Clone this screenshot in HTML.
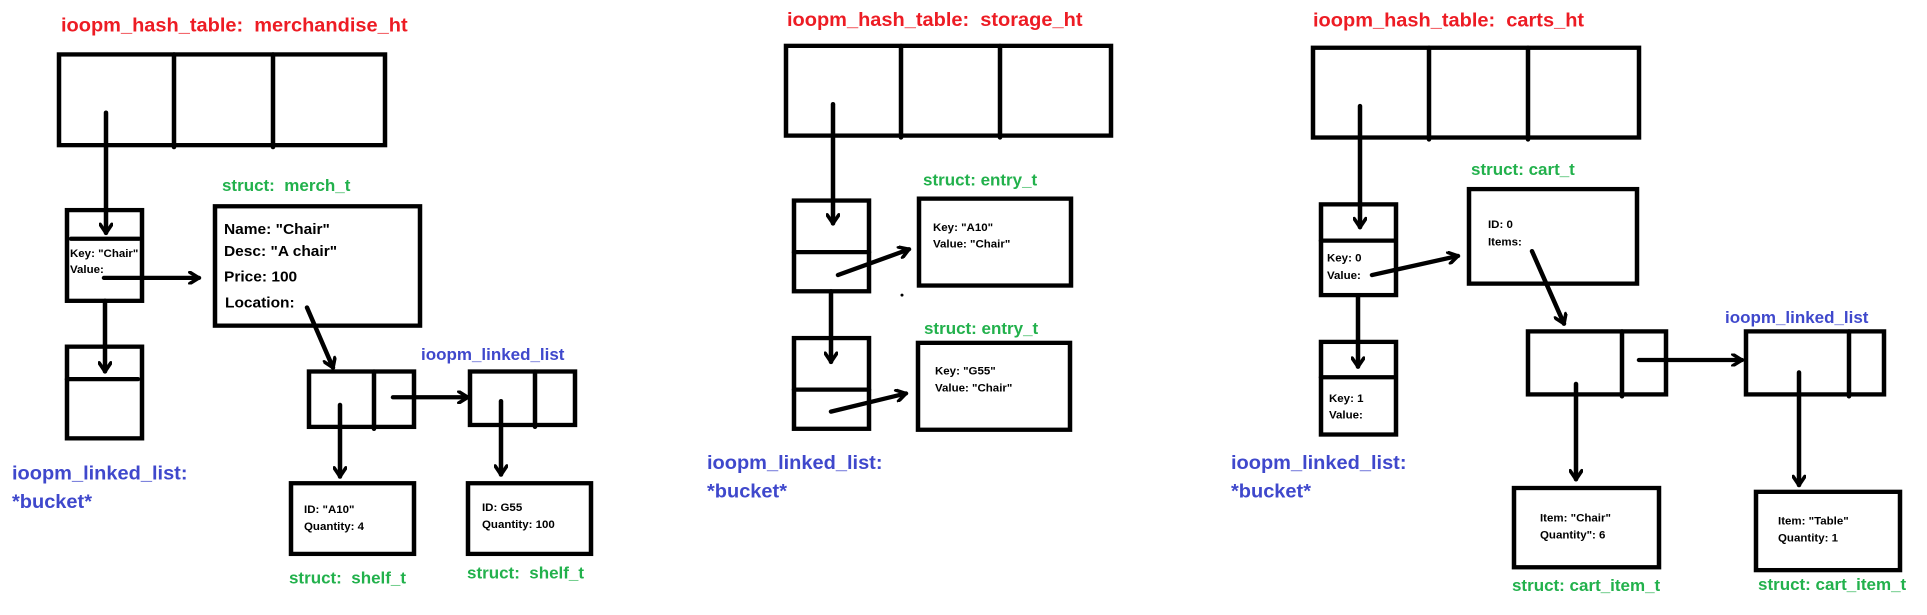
<!DOCTYPE html>
<html><head><meta charset="utf-8"><style>
html,body{margin:0;padding:0;background:#fff;}
svg{display:block;}
text{font-family:"Liberation Sans",sans-serif;font-weight:bold;white-space:pre;}
.r{fill:#ed1c24;font-size:20px;}
.g{fill:#22b14c;font-size:17px;}
.b{fill:#3f48cc;font-size:20px;}
.bs{fill:#3f48cc;font-size:17px;}
.t{fill:#000;font-size:11.5px;}
.m{fill:#000;font-size:15.5px;}
</style></head><body>
<svg width="1927" height="615" viewBox="0 0 1927 615" xmlns="http://www.w3.org/2000/svg" xml:space="preserve">
<defs>
<marker id="a" viewBox="0 0 10 10" refX="8.5" refY="5" markerWidth="14" markerHeight="14" markerUnits="userSpaceOnUse" orient="auto">
<path d="M2,0.8 L8.5,5 L2,9.2" fill="none" stroke="#000" stroke-width="2.6" stroke-linecap="round" stroke-linejoin="round"/>
</marker>
</defs>
<g transform="scale(1,0.955)" fill="none" stroke="#000" stroke-width="4.5" stroke-linecap="round">
<rect x="59" y="57" width="326" height="95"/>
<line x1="174" y1="57" x2="174" y2="154"/><line x1="273" y1="57" x2="273" y2="154"/>
<line x1="106" y1="118" x2="106" y2="244" marker-end="url(#a)"/>
<rect x="67" y="220" width="75" height="95"/>
<line x1="71" y1="250" x2="139" y2="250"/>
<line x1="104" y1="291" x2="199" y2="291" marker-end="url(#a)"/>
<line x1="105" y1="315" x2="105" y2="389" marker-end="url(#a)"/>
<rect x="67" y="363" width="75" height="96"/>
<line x1="67" y1="397" x2="138" y2="397"/>
<rect x="215" y="216" width="205" height="125"/>
<line x1="307" y1="322" x2="333" y2="385" marker-end="url(#a)"/>
<rect x="309" y="389" width="105" height="58"/>
<line x1="374" y1="389" x2="374" y2="449"/>
<line x1="393" y1="416" x2="468" y2="416" marker-end="url(#a)"/>
<rect x="470" y="389" width="105" height="56"/>
<line x1="535" y1="389" x2="535" y2="447"/>
<line x1="340" y1="424" x2="340" y2="499" marker-end="url(#a)"/>
<line x1="501" y1="420" x2="501" y2="497" marker-end="url(#a)"/>
<rect x="291" y="506" width="123" height="74"/>
<rect x="468" y="506" width="123" height="74"/>
<rect x="786" y="48" width="325" height="94"/>
<line x1="901" y1="48" x2="901" y2="144"/><line x1="1000" y1="48" x2="1000" y2="144"/>
<line x1="833" y1="109" x2="833" y2="234" marker-end="url(#a)"/>
<rect x="794" y="210" width="75" height="95"/>
<line x1="794" y1="264" x2="869" y2="264"/>
<line x1="838" y1="288" x2="909" y2="261" marker-end="url(#a)"/>
<line x1="831" y1="305" x2="831" y2="379" marker-end="url(#a)"/>
<rect x="794" y="354" width="75" height="95"/>
<line x1="794" y1="408" x2="869" y2="408"/>
<line x1="831" y1="431" x2="906" y2="412" marker-end="url(#a)"/>
<rect x="919" y="208" width="152" height="91"/>
<rect x="918" y="359" width="152" height="91"/>
<circle cx="902" cy="309" r="1.5" fill="#000" stroke="none"/>
<rect x="1313" y="50" width="326" height="94"/>
<line x1="1429" y1="50" x2="1429" y2="146"/><line x1="1528" y1="50" x2="1528" y2="146"/>
<line x1="1360" y1="111" x2="1360" y2="238" marker-end="url(#a)"/>
<rect x="1321" y="214" width="75" height="95"/>
<line x1="1321" y1="252" x2="1394" y2="252"/>
<line x1="1372" y1="288" x2="1458" y2="268" marker-end="url(#a)"/>
<line x1="1358" y1="309" x2="1358" y2="384" marker-end="url(#a)"/>
<rect x="1321" y="358" width="75" height="97"/>
<line x1="1321" y1="395" x2="1394" y2="395"/>
<rect x="1469" y="198" width="168" height="99"/>
<line x1="1532" y1="263" x2="1564" y2="339" marker-end="url(#a)"/>
<rect x="1528" y="347" width="138" height="66"/>
<line x1="1622" y1="347" x2="1622" y2="415"/>
<line x1="1639" y1="377" x2="1742" y2="377" marker-end="url(#a)"/>
<rect x="1746" y="347" width="138" height="66"/>
<line x1="1849" y1="347" x2="1849" y2="415"/>
<line x1="1576" y1="402" x2="1576" y2="502" marker-end="url(#a)"/>
<line x1="1799" y1="390" x2="1799" y2="508" marker-end="url(#a)"/>
<rect x="1514" y="511" width="145" height="83"/>
<rect x="1756" y="515" width="144" height="82"/>
</g>
<g transform="scale(1,0.955)">
<text class="r" x="61" y="33">ioopm_hash_table:&#160; merchandise_ht</text>
<text class="g" x="222" y="200">struct:&#160; merch_t</text>
<text class="t" x="70" y="269">Key: "Chair"</text>
<text class="t" x="70" y="286">Value:</text>
<text class="m" x="224" y="245">Name: "Chair"</text>
<text class="m" x="224" y="268">Desc: "A chair"</text>
<text class="m" x="224" y="295">Price: 100</text>
<text class="m" x="225" y="322">Location:</text>
<text class="bs" x="421" y="377">ioopm_linked_list</text>
<text class="t" x="304" y="537">ID: "A10"</text>
<text class="t" x="304" y="555">Quantity: 4</text>
<text class="t" x="482" y="535">ID: G55</text>
<text class="t" x="482" y="553">Quantity: 100</text>
<text class="g" x="289" y="611">struct:&#160; shelf_t</text>
<text class="g" x="467" y="606">struct:&#160; shelf_t</text>
<text class="b" x="12" y="502">ioopm_linked_list:</text>
<text class="b" x="12" y="532">*bucket*</text>
<text class="r" x="787" y="27">ioopm_hash_table:&#160; storage_ht</text>
<text class="g" x="923" y="194">struct: entry_t</text>
<text class="t" x="933" y="242">Key: "A10"</text>
<text class="t" x="933" y="259">Value: "Chair"</text>
<text class="g" x="924" y="350">struct: entry_t</text>
<text class="t" x="935" y="392">Key: "G55"</text>
<text class="t" x="935" y="410">Value: "Chair"</text>
<text class="b" x="707" y="491">ioopm_linked_list:</text>
<text class="b" x="707" y="521">*bucket*</text>
<text class="r" x="1313" y="28">ioopm_hash_table:&#160; carts_ht</text>
<text class="g" x="1471" y="183">struct: cart_t</text>
<text class="t" x="1488" y="239">ID: 0</text>
<text class="t" x="1488" y="257">Items:</text>
<text class="t" x="1327" y="274">Key: 0</text>
<text class="t" x="1327" y="292">Value:</text>
<text class="t" x="1329" y="421">Key: 1</text>
<text class="t" x="1329" y="438">Value:</text>
<text class="bs" x="1725" y="338">ioopm_linked_list</text>
<text class="t" x="1540" y="546">Item: "Chair"</text>
<text class="t" x="1540" y="564">Quantity": 6</text>
<text class="t" x="1778" y="549">Item: "Table"</text>
<text class="t" x="1778" y="567">Quantity: 1</text>
<text class="g" x="1512" y="619">struct: cart_item_t</text>
<text class="g" x="1758" y="618">struct: cart_item_t</text>
<text class="b" x="1231" y="491">ioopm_linked_list:</text>
<text class="b" x="1231" y="521">*bucket*</text>
</g>
</svg>
</body></html>
